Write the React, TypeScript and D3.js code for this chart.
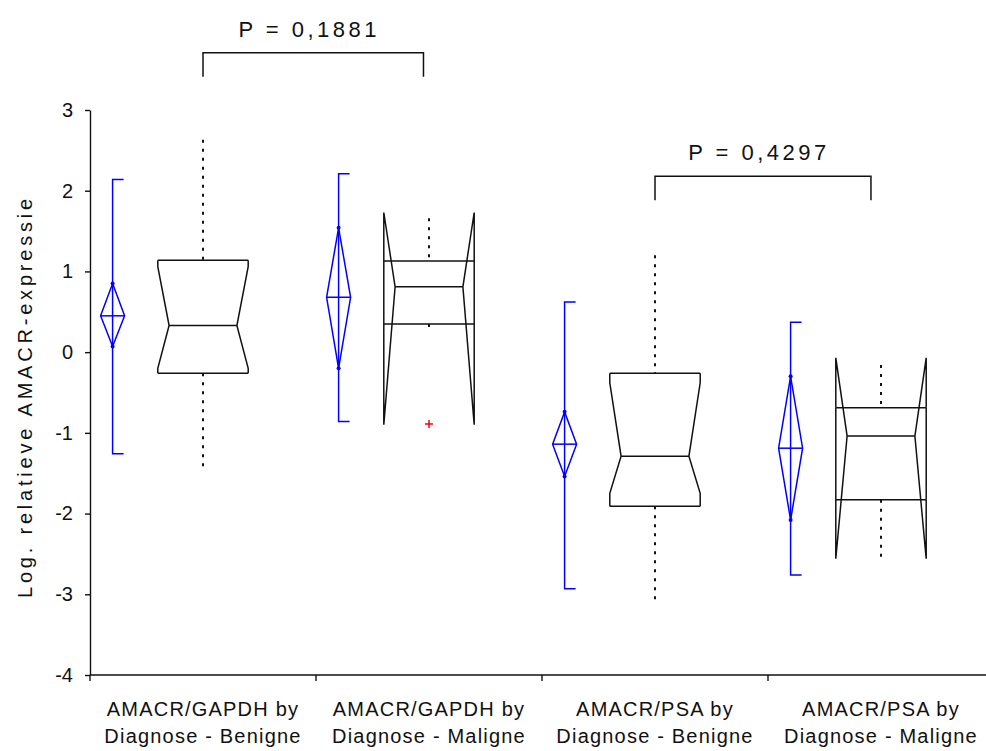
import React, { useEffect, useRef } from "react";
import * as d3 from "d3";

// groups on the x axis
const categories = ["GAPDH-Benigne", "GAPDH-Maligne", "PSA-Benigne", "PSA-Maligne"];
const labelTop = ["AMACR/GAPDH by", "AMACR/GAPDH by", "AMACR/PSA by", "AMACR/PSA by"];
const labelBottom = ["Diagnose - Benigne", "Diagnose - Maligne", "Diagnose - Benigne", "Diagnose - Maligne"];

// blue means diamonds + range brackets
const means = [0.45, 0.68, -1.14, -1.19];
const ciLow = [0.07, -0.2, -1.54, -2.08];
const ciHigh = [0.85, 1.54, -0.74, -0.3];
const rangeLow = [-1.26, -0.86, -2.93, -2.76];
const rangeHigh = [2.14, 2.21, 0.62, 0.37];

// notched box plots
const q1 = [-0.26, 0.35, -1.91, -1.83];
const medians = [0.33, 0.81, -1.29, -1.04];
const q3 = [1.14, 1.13, -0.26, -0.69];
const notchLow = [-0.2, -0.9, -1.75, -2.56];
const notchHigh = [1.06, 1.73, -0.38, -0.07];
const whiskerLow = [-1.42, 0.28, -3.11, -2.54];
const whiskerHigh = [2.63, 1.66, 1.2, -0.16];
const outlierGroup = ["GAPDH-Maligne"];
const outlierValue = [-0.89];

// p-value brackets
const pFrom = ["GAPDH-Benigne", "PSA-Benigne"];
const pTo = ["GAPDH-Maligne", "PSA-Maligne"];
const pLevel = [3.71, 2.18];
const pText = ["P = 0,1881", "P = 0,4297"];

const yTicks = [-4, -3, -2, -1, 0, 1, 2, 3];

const App = () => {
  const ref = useRef<SVGSVGElement>(null);

  useEffect(() => {
    const svg = d3.select(ref.current);
    svg.selectAll("*").remove();
    const font = "'Liberation Sans', Arial, sans-serif";

    const y = d3.scaleLinear().domain([-4, 3]).range([675, 110]);
    const x = d3.scaleBand<string>().domain(categories).range([90, 994]);
    const bw = x.bandwidth();
    const cx = (c: string) => (x(c) as number) + bw / 2;

    // y axis
    const gy = svg
      .append("g")
      .attr("transform", "translate(90,0)")
      .call(
        d3
          .axisLeft(y)
          .tickValues(yTicks)
          .tickSize(5)
          .tickSizeOuter(0)
          .tickPadding(12)
          .tickFormat((d) => String(d))
      )
      .attr("font-size", 20)
      .attr("font-family", font);
    gy.selectAll("path, line").attr("stroke", "#111").attr("stroke-width", 1.4);
    gy.selectAll("text").attr("fill", "#111");

    // x axis
    const gx = svg.append("g").attr("stroke", "#111").attr("stroke-width", 1.4);
    gx.append("line").attr("x1", 90).attr("x2", 994).attr("y1", y(-4)).attr("y2", y(-4));
    gx.selectAll("line.tick")
      .data(categories)
      .enter()
      .append("line")
      .attr("class", "tick")
      .attr("x1", (d) => x(d) as number)
      .attr("x2", (d) => x(d) as number)
      .attr("y1", y(-4))
      .attr("y2", y(-4) + 6);

    const labels = svg
      .append("g")
      .attr("font-family", font)
      .attr("font-size", 20)
      .attr("letter-spacing", 1.2)
      .attr("text-anchor", "middle")
      .attr("fill", "#111");
    categories.forEach((c, i) => {
      labels.append("text").attr("x", cx(c)).attr("y", 716).text(labelTop[i]);
      labels.append("text").attr("x", cx(c)).attr("y", 743).text(labelBottom[i]);
    });

    svg
      .append("text")
      .attr("transform", `translate(32,${y(-0.55)}) rotate(-90)`)
      .attr("text-anchor", "middle")
      .attr("font-family", font)
      .attr("font-size", 20)
      .attr("letter-spacing", 3.8)
      .attr("fill", "#111")
      .text("Log. relatieve AMACR-expressie");

    // blue means diamonds
    const blue = svg.append("g").attr("stroke", "#0000ff").attr("stroke-width", 1.5).attr("fill", "none");
    categories.forEach((c, i) => {
      const bx = cx(c) - bw * 0.4;
      blue
        .append("path")
        .attr("d", `M${bx + 11},${y(rangeHigh[i])}H${bx}V${y(rangeLow[i])}H${bx + 11}`);
      blue
        .append("path")
        .attr(
          "d",
          `M${bx},${y(ciHigh[i])}L${bx + 12},${y(means[i])}L${bx},${y(ciLow[i])}L${bx - 12},${y(means[i])}Z`
        );
      blue
        .append("line")
        .attr("x1", bx - 12)
        .attr("x2", bx + 12)
        .attr("y1", y(means[i]))
        .attr("y2", y(means[i]));
      [ciHigh[i], ciLow[i]].forEach((v) =>
        blue.append("circle").attr("cx", bx).attr("cy", y(v)).attr("r", 2).attr("fill", "#0000ff").attr("stroke", "none")
      );
    });

    // notched boxes
    const box = svg.append("g").attr("stroke", "#111").attr("stroke-width", 1.5).attr("fill", "none");
    categories.forEach((c, i) => {
      const mx = cx(c);
      const hw = bw * 0.2;
      const iw = hw * 0.75;
      // whiskers
      box
        .append("line")
        .attr("x1", mx)
        .attr("x2", mx)
        .attr("y1", y(whiskerHigh[i]))
        .attr("y2", y(q3[i]))
        .attr("stroke-width", 2)
        .attr("stroke-dasharray", "3 6");
      box
        .append("line")
        .attr("x1", mx)
        .attr("x2", mx)
        .attr("y1", y(q1[i]))
        .attr("y2", y(whiskerLow[i]))
        .attr("stroke-width", 2)
        .attr("stroke-dasharray", "3 6");
      // quartile + median lines
      box.append("line").attr("x1", mx - hw).attr("x2", mx + hw).attr("y1", y(q3[i])).attr("y2", y(q3[i]));
      box.append("line").attr("x1", mx - hw).attr("x2", mx + hw).attr("y1", y(q1[i])).attr("y2", y(q1[i]));
      box
        .append("line")
        .attr("x1", mx - iw)
        .attr("x2", mx + iw)
        .attr("y1", y(medians[i]))
        .attr("y2", y(medians[i]));
      // notched sides
      [-1, 1].forEach((s) => {
        const o = mx + s * hw;
        const n = mx + s * iw;
        box
          .append("path")
          .attr(
            "d",
            `M${o},${y(q3[i])}V${y(notchHigh[i])}L${n},${y(medians[i])}L${o},${y(notchLow[i])}V${y(q1[i])}`
          );
        if (notchHigh[i] > q3[i]) {
          box.append("line").attr("x1", o).attr("x2", o).attr("y1", y(q3[i])).attr("y2", y(q1[i]));
        }
      });
    });

    // outliers
    const red = svg.append("g").attr("stroke", "#ff0000").attr("stroke-width", 1.5);
    outlierGroup.forEach((c, i) => {
      const px = cx(c);
      const py = y(outlierValue[i]);
      red.append("line").attr("x1", px - 4).attr("x2", px + 4).attr("y1", py).attr("y2", py);
      red.append("line").attr("x1", px).attr("x2", px).attr("y1", py - 4).attr("y2", py + 4);
    });

    // p-value brackets
    const pg = svg.append("g");
    pFrom.forEach((c, i) => {
      const x1 = cx(c);
      const x2 = cx(pTo[i]) - bw * 0.02 * (i + 1) - 1;
      const py = y(pLevel[i]);
      pg.append("path")
        .attr("d", `M${x1},${py + 24}V${py}H${x2}V${py + 24}`)
        .attr("fill", "none")
        .attr("stroke", "#111")
        .attr("stroke-width", 1.5);
      pg.append("text")
        .attr("x", (x1 + x2) / 2 - 4)
        .attr("y", py - 16)
        .attr("text-anchor", "middle")
        .attr("font-family", font)
        .attr("font-size", 22)
        .attr("letter-spacing", 3.5)
        .attr("fill", "#111")
        .text(pText[i]);
    });
  }, []);

  return (
    <svg
      ref={ref}
      width={986}
      height={751}
      style={{ position: "absolute", left: 0, top: 0, background: "#fff" }}
    />
  );
};

export default App;
